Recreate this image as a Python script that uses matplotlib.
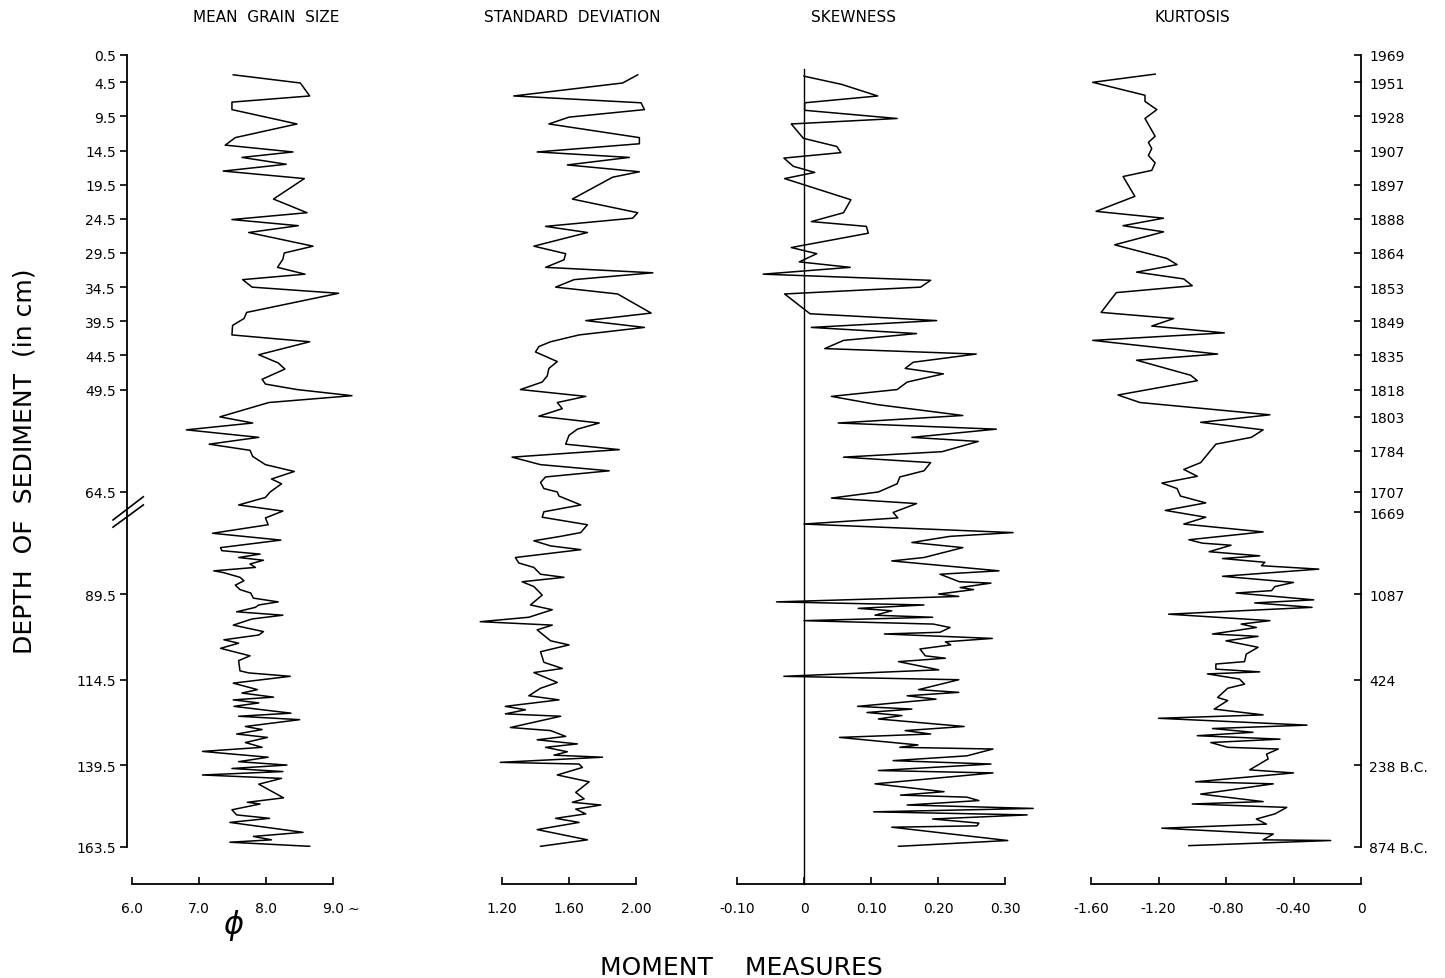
import matplotlib
matplotlib.use('Agg')
from matplotlib import pyplot as plt
from matplotlib import transforms
import numpy as np

mean_depth = [3.4, 4.6, 6.5, 7.4, 8.5, 10.6, 12.6, 13.7, 14.7, 15.5, 16.5, 17.5, 18.6, 21.6, 23.6,
              24.6, 25.5, 26.5, 28.5, 29.5, 30.4, 31.6, 32.6, 33.4, 34.5, 35.4, 38.2, 39.1, 40.1,
              41.5, 42.5, 44.4, 45.6, 46.5, 48.0, 48.7, 49.5, 50.4, 51.4, 53.5, 54.4, 55.4, 56.5,
              57.5, 58.4, 59.3, 60.5, 61.5, 62.6, 63.3, 64.5, 65.3, 66.4, 67.3, 68.3, 69.3,
              71.6, 73.6, 75.8, 76.7, 77.7, 78.7, 79.5, 80.6, 81.6, 82.6, 83.1, 84.5, 85.5, 86.8,
              88.1, 89.1, 90.6, 91.7, 92.6, 93.3, 94.6, 95.6, 96.7, 98.5, 100.4, 101.4, 102.8,
              103.8, 105.3, 107.5, 108.9, 111.9, 112.5, 113.5, 115.5, 117.4, 118.4, 119.6, 120.4,
              121.3, 122.3, 124.3, 125.2, 126.2, 128.2, 129.1, 130.4, 131.4, 132.9, 134.3, 135.5,
              137.2, 138.5, 139.5, 140.5, 141.4, 142.4, 143.4, 145.1, 149.1, 150.4, 150.9, 152.6,
              154.1, 155.1, 156.3, 159.2, 160.4, 161.4, 162.1, 163.3]
mean_phi = [7.51, 8.51, 8.65, 7.49, 7.49, 8.46, 7.54, 7.39, 8.40, 7.64, 8.30, 7.36, 8.57, 8.11, 8.61,
            7.49, 8.48, 7.74, 8.70, 8.27, 8.25, 8.17, 8.58, 7.65, 7.79, 9.08, 7.71, 7.67, 7.50,
            7.49, 8.65, 7.89, 8.18, 8.28, 7.94, 7.99, 8.46, 9.28, 8.04, 7.31, 7.80, 6.81, 7.89,
            7.15, 7.76, 7.80, 7.99, 8.42, 8.08, 8.23, 8.06, 7.99, 7.59, 8.25, 7.99, 8.03,
            7.20, 8.22, 7.32, 7.34, 7.91, 7.59, 7.96, 7.76, 7.84, 7.22, 7.36, 7.61, 7.67, 7.54,
            7.61, 7.77, 7.81, 8.18, 7.89, 7.84, 7.56, 8.25, 7.79, 7.51, 7.96, 7.89, 7.37,
            7.59, 7.32, 7.76, 7.59, 7.61, 7.74, 8.36, 7.51, 7.87, 7.64, 8.11, 7.51,
            7.89, 7.52, 8.37, 7.59, 8.50, 7.69, 7.94, 7.56, 8.02, 7.69, 7.94, 7.05,
            8.03, 7.59, 8.31, 7.49, 8.25, 7.05, 8.23, 7.89, 8.26, 7.72, 7.91, 7.49,
            7.56, 8.05, 7.46, 8.55, 7.81, 8.08, 7.46, 8.65]

sd_depth = [3.4, 4.6, 6.5, 7.5, 8.5, 9.6, 10.6, 12.6, 13.5, 14.7, 15.5, 16.6, 17.6, 18.4, 21.6, 23.6,
            24.4, 25.6, 26.5, 28.5, 29.6, 30.5, 31.6, 32.4, 33.4, 34.5, 35.5, 38.3, 39.4, 40.4,
            41.5, 42.5, 43.2, 44.0, 45.4, 46.4, 47.5, 48.4, 49.5, 50.5, 51.4, 52.3, 53.4, 54.4,
            55.3, 56.2, 57.5, 58.3, 59.4, 60.5, 61.4, 62.3, 63.1, 64.0, 64.5, 65.1, 66.4, 67.4, 68.2,
            69.3, 71.4, 72.5, 73.8, 75.3, 76.4, 78.7, 80.3, 81.6, 83.6, 84.5, 85.8, 87.2, 89.7,
            92.6, 94.0, 96.2, 97.5, 98.5, 99.9, 103.1, 104.3, 106.3, 109.4, 111.2, 112.4, 115.3,
            117.0, 119.2, 120.4, 122.3, 123.3, 124.5, 125.2, 128.5, 129.4, 131.1, 132.1, 133.3,
            134.3, 135.6, 136.6, 137.2, 138.7, 139.2, 140.2, 142.4, 144.4, 147.5, 149.4, 150.4,
            151.2, 152.4, 153.8, 155.1, 156.3, 158.4, 161.4, 163.3]
sd_value = [2.01, 1.92, 1.27, 2.03, 2.05, 1.60, 1.48, 2.02, 2.02, 1.41, 1.96, 1.59, 2.02, 1.86, 1.62, 2.01,
            1.98, 1.46, 1.71, 1.39, 1.58, 1.57, 1.46, 2.10, 1.63, 1.52, 1.89, 2.09, 1.70, 2.05,
            1.66, 1.49, 1.42, 1.40, 1.53, 1.48, 1.47, 1.44, 1.31, 1.70, 1.53, 1.56, 1.42, 1.78,
            1.65, 1.60, 1.58, 1.90, 1.26, 1.43, 1.84, 1.46, 1.43, 1.45, 1.53, 1.54, 1.67, 1.45, 1.44,
            1.71, 1.67, 1.55, 1.39, 1.49, 1.67, 1.28, 1.30, 1.39, 1.43, 1.57, 1.32, 1.39, 1.44,
            1.37, 1.50, 1.36, 1.07, 1.50, 1.41, 1.49, 1.60, 1.43, 1.45, 1.56, 1.39, 1.53,
            1.43, 1.36, 1.54, 1.22, 1.34, 1.22, 1.55, 1.25, 1.49, 1.58, 1.41, 1.65,
            1.46, 1.59, 1.51, 1.80, 1.19, 1.66, 1.68, 1.53, 1.72, 1.64, 1.69, 1.62,
            1.79, 1.64, 1.70, 1.52, 1.66, 1.41, 1.71, 1.43]

skew_depth = [3.6, 4.8, 6.5, 7.5, 8.6, 9.8, 10.6, 12.7, 13.9, 14.8, 15.6, 16.8, 17.7, 18.6, 21.7, 23.6,
              24.9, 25.6, 26.6, 28.7, 29.6, 30.8, 31.6, 32.6, 33.5, 34.5, 35.5, 38.4, 39.4, 40.4,
              41.3, 42.3, 43.5, 44.3, 45.5, 46.4, 47.2, 48.4, 49.5, 50.5, 51.7, 53.3, 54.4, 55.3,
              56.5, 57.1, 58.6, 59.4, 60.2, 61.4, 62.3, 63.3, 64.5, 65.4, 66.2, 67.5, 68.3, 69.2,
              71.4, 72.5, 74.3, 75.8, 78.7, 79.7, 82.6, 83.6, 85.8, 86.2, 87.5, 88.1, 89.4, 90.1,
              91.7, 92.6, 93.6, 94.3, 95.6, 96.2, 97.2, 98.2, 99.2, 100.6, 101.1, 102.4, 103.4,
              104.3, 105.5, 107.5, 108.2, 109.2, 111.6, 113.5, 114.5, 117.4, 118.2, 119.2, 120.2,
              122.3, 123.1, 124.1, 125.0, 126.0, 128.2, 129.4, 130.4, 131.4, 133.6, 134.3, 134.8,
              136.8, 138.2, 139.2, 141.1, 141.8, 145.0, 147.3, 148.3, 148.9, 149.9, 151.2, 152.2,
              153.2, 154.1, 155.3, 156.5, 157.3, 157.7, 161.6, 163.3]
skew_value = [0.000, 0.056, 0.110, 0.001, 0.001, 0.139, -0.019, -0.001, 0.049, 0.055, -0.030, -0.016,
              0.016, -0.029, 0.070, 0.059, 0.011, 0.093, 0.096, -0.019, 0.019, -0.007, 0.069, -0.061,
              0.189, 0.174, -0.029, 0.009, 0.198, 0.011, 0.168, 0.059, 0.031, 0.257, 0.163, 0.151,
              0.208, 0.154, 0.139, 0.041, 0.109, 0.237, 0.051, 0.287, 0.161, 0.260, 0.206, 0.059,
              0.189, 0.179, 0.143, 0.139, 0.111, 0.041, 0.168, 0.133, 0.140, 0.000,
              0.312, 0.218, 0.161, 0.237, 0.179, 0.131, 0.291, 0.203, 0.232, 0.279, 0.233, 0.253,
              0.201, 0.231, -0.041, 0.179, 0.081, 0.131, 0.106, 0.192, 0.000, 0.193, 0.218, 0.203,
              0.120, 0.281, 0.211, 0.219, 0.173, 0.181, 0.211, 0.141, 0.201, -0.030, 0.231, 0.171,
              0.231, 0.154, 0.197, 0.080, 0.161, 0.094, 0.146, 0.111, 0.239, 0.151, 0.189, 0.053,
              0.170, 0.143, 0.282, 0.243, 0.133, 0.279, 0.111, 0.282, 0.106, 0.209, 0.144, 0.243,
              0.261, 0.154, 0.342, 0.104, 0.333, 0.192, 0.261, 0.258, 0.131, 0.304, 0.141]

kurt_depth = [3.3, 4.5, 6.4, 7.3, 8.5, 9.8, 12.4, 13.3, 14.2, 15.2, 16.3, 17.4, 18.3, 21.2, 23.4, 24.4,
              25.5, 26.4, 28.3, 30.3, 31.2, 32.3, 33.3, 34.3, 35.3, 38.2, 39.1, 40.2, 41.2, 42.3,
              44.3, 45.2, 47.4, 48.2, 50.3, 51.4, 53.2, 54.3, 55.4, 56.5, 57.5, 58.4, 59.3, 60.2,
              61.2, 62.2, 63.2, 64.0, 65.1, 66.1, 67.2, 68.2, 69.2,
              71.2, 73.5, 74.5, 75.1, 77.0, 78.2, 79.0, 80.1, 81.1, 82.1, 84.2, 86.0, 87.2, 88.4,
              89.1, 91.1, 92.0, 93.3, 95.3, 97.2, 98.2, 99.2, 101.1, 101.8, 103.1, 105.0, 107.0,
              109.2, 109.9, 111.4, 112.2, 112.8, 114.3, 115.8, 117.0, 119.7, 120.6, 123.1, 124.8,
              125.8, 127.8, 128.8, 129.9, 130.9, 131.9, 132.9, 134.3, 134.8, 136.3, 137.7, 140.9,
              141.8, 144.4, 145.0, 148.0, 150.2, 150.9, 151.9, 153.8, 155.3, 156.8, 158.0, 159.7,
              161.4, 161.6, 163.1]
kurt_value = [-1.22, -1.59, -1.28, -1.28, -1.21, -1.28, -1.22, -1.26, -1.24, -1.26, -1.22, -1.24, -1.41,
              -1.34, -1.57, -1.17, -1.41, -1.17, -1.46, -1.15, -1.09, -1.33, -1.05, -1.00, -1.45,
              -1.54, -1.11, -1.24, -0.81, -1.59, -0.85, -1.33, -1.01, -0.97, -1.44, -1.31, -0.54,
              -0.95, -0.58, -0.65, -0.86, -0.89, -0.92, -0.95, -1.05, -0.97, -1.18, -1.09, -1.07,
              -0.92, -1.16, -0.92, -1.05,
              -0.58, -1.02, -0.94, -0.77, -0.90, -0.60, -0.82, -0.57, -0.59, -0.25, -0.82, -0.40,
              -0.51, -0.53, -0.74, -0.28, -0.63, -0.29, -1.14, -0.54, -0.71, -0.62, -0.88, -0.61,
              -0.80, -0.61, -0.68, -0.69, -0.86, -0.86, -0.60, -0.91, -0.72, -0.69, -0.79, -0.85,
              -0.79, -0.87, -0.58, -1.20, -0.32, -0.88, -0.64, -0.97, -0.48, -0.89, -0.79, -0.49,
              -0.56, -0.55, -0.66, -0.40, -0.98, -0.52, -0.95, -0.58, -1.00, -0.44, -0.51, -0.62,
              -0.56, -1.18, -0.52, -0.58, -0.18, -1.02]

depth_ticks = [0.5, 4.5, 9.5, 14.5, 19.5, 24.5, 29.5, 34.5, 39.5, 44.5, 49.5, 64.5,
               89.5, 114.5, 139.5, 163.5]
year_depths = [0.5, 4.5, 9.5, 14.5, 19.5, 24.5, 29.5, 34.5, 39.5, 44.5, 49.5, 53.5, 58.5,
               64.5, 67.5, 89.5, 114.5, 139.5, 163.5]
year_labels = ['1969', '1951', '1928', '1907', '1897', '1888', '1864', '1853', '1849', '1835',
               '1818', '1803', '1784', '1707', '1669', '1087', '424', '238 B.C.', '874 B.C.']

# depth axis is squeezed by half below the break
BREAK = 69.5


def fwd(d):
  d = np.asarray(d, dtype=float)
  return np.where(d <= BREAK, d, BREAK + (d - BREAK) / 2.0)


def inv(u):
  u = np.asarray(u, dtype=float)
  return np.where(u <= BREAK, u, BREAK + (u - BREAK) * 2.0)


W, H = 1445, 979
fig = plt.figure(figsize=(W / 100, H / 100), dpi=100)
OUT = 37 * 72 / 100  # scales sit 37 px under the plots (in points)


def panel(x0, x1, xlim, bounds, ticks, labels):
  ax = fig.add_axes([x0 / W, 1 - 848 / H, (x1 - x0) / W, 792 / H])
  ax.set_yscale('function', functions=(fwd, inv))
  ax.set_ylim(163.5, 0.5)
  ax.set_xlim(*xlim)
  ax.patch.set_visible(False)
  for s in ['top', 'right', 'left']:
    ax.spines[s].set_visible(False)
  ax.spines['bottom'].set_position(('outward', OUT))
  ax.spines['bottom'].set_bounds(*bounds)
  ax.spines['bottom'].set_linewidth(1.3)
  ax.set_xticks(ticks)
  ax.set_xticklabels(labels)
  ax.tick_params(axis='x', direction='in', length=5, width=1.2, pad=12, labelsize=10)
  ax.tick_params(axis='y', which='both', left=False, labelleft=False)
  ax.minorticks_off()
  return ax


ax1 = panel(127, 360, (5.925, 9.4), (6.0, 9.0), [6.0, 7.0, 8.0, 9.0], ['6.0', '7.0', '8.0', '9.0'])
ax2 = panel(470, 660, (1.009, 2.143), (1.2, 2.0), [1.2, 1.6, 2.0], ['1.20', '1.60', '2.00'])
ax3 = panel(737, 1040, (-0.10, 0.3522), (-0.1, 0.3), [-0.1, 0, 0.1, 0.2, 0.3],
            ['-0.10', '0', '0.10', '0.20', '0.30'])
ax4 = panel(1091, 1361, (-1.6, 0.0), (-1.6, 0.0), [-1.6, -1.2, -0.8, -0.4, 0.0],
            ['-1.60', '-1.20', '-0.80', '-0.40', '0'])

lw = 1.1
ax1.plot(mean_phi, mean_depth, color='black', lw=lw)
ax2.plot(sd_value, sd_depth, color='black', lw=lw)
ax3.plot(skew_value, skew_depth, color='black', lw=lw)
ax4.plot(kurt_value, kurt_depth, color='black', lw=lw)

# zero line of skewness runs down to its scale
ax3.axvline(0, ymin=-37 / 792, ymax=(848 - 70) / 792, color='black', lw=1.0, clip_on=False)

# left depth axis
ax1.spines['left'].set_visible(True)
ax1.spines['left'].set_linewidth(1.3)
ax1.set_yticks(depth_ticks)
ax1.set_yticklabels([str(t) for t in depth_ticks])
ax1.tick_params(axis='y', left=True, labelleft=True, direction='out', length=5, width=1.2,
                pad=3, labelsize=10)

# break mark on the depth axis
tr = transforms.blended_transform_factory(ax1.transAxes, ax1.transData)
for d0, d1 in [(68.6, 65.2), (69.8, 66.4)]:
  ax1.plot([-0.06, 0.07], [d0, d1], color='black', lw=1.2, transform=tr, clip_on=False)

# right axis with dates
ax4.spines['right'].set_visible(True)
ax4.spines['right'].set_linewidth(1.3)
ax4.yaxis.tick_right()
ax4.set_yticks(year_depths)
ax4.set_yticklabels(year_labels)
ax4.tick_params(axis='y', right=True, labelright=True, left=False, direction='in', length=5,
                width=1.2, pad=6, labelsize=10)

# titles and labels
for x, t in [(266, 'MEAN  GRAIN  SIZE'), (572, 'STANDARD  DEVIATION'), (853, 'SKEWNESS'),
             (1192, 'KURTOSIS')]:
  fig.text(x / W, 1 - 18 / H, t, ha='center', va='center', fontsize=11)

fig.text(25 / W, 1 - 461 / H, 'DEPTH  OF  SEDIMENT  (in cm)', rotation=90, ha='center',
         va='center', fontsize=18)
fig.text(741 / W, 1 - 968 / H, 'MOMENT    MEASURES', ha='center', va='center', fontsize=18)
fig.text(233 / W, 1 - 926 / H, 'ϕ', ha='center', va='center', fontsize=22, style='italic')
fig.text(353 / W, 1 - 910 / H, '~', ha='center', va='center', fontsize=10)

fig.savefig('out.png', dpi=100)
plt.close(fig)
